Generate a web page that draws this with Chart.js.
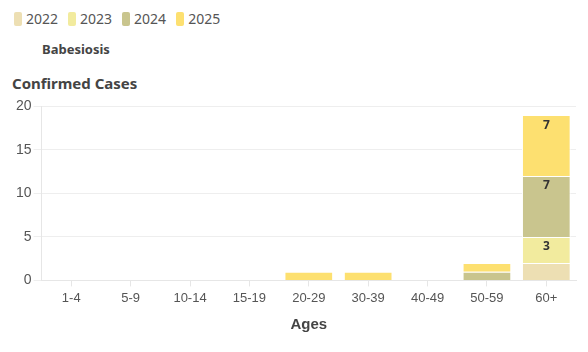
<!DOCTYPE html>
<html>
<head>
<meta charset="utf-8">
<script src="https://cdn.jsdelivr.net/npm/chart.js@4/dist/chart.umd.min.js"></script>
<style>
    html, body { margin: 0; padding: 0; background: #fff; }
    body { width: 588px; height: 352px; position: relative; overflow: hidden;
           font-family: "Noto Sans", "Open Sans", sans-serif; color: #555; }
    .legend { position: absolute; left: 14px; top: 9px; display: flex; font-size: 14px; }
    .legend-item { display: flex; align-items: center; margin-right: 10px; }
    .legend-dot { width: 8px; height: 14px; border-radius: 2px; margin-right: 4px; }
    .title { position: absolute; left: 42px; top: 40px; font-size: 13px; font-weight: bold; color: #444; }
    .ytitle { position: absolute; left: 12px; top: 73px; font-size: 15px; font-weight: bold; color: #444; }
    .wrap { position: absolute; left: 0; top: 96px; width: 588px; height: 256px; }
</style>
</head>
<body>
<div class="legend" id="legend"></div>
<div class="title">Babesiosis</div>
<div class="ytitle">Confirmed Cases</div>
<div class="wrap"><canvas id="chart"></canvas></div>
<script>
const AGES   = ['1-4', '5-9', '10-14', '15-19', '20-29', '30-39', '40-49', '50-59', '60+'];
const YEARS  = ['2022', '2023', '2024', '2025'];
const COLORS = ['#eddfb3', '#f2eb9e', '#c9c58e', '#fde070'];

const cases2022 = [0, 0, 0, 0, 0, 0, 0, 0, 2];
const cases2023 = [0, 0, 0, 0, 0, 0, 0, 0, 3];
const cases2024 = [0, 0, 0, 0, 0, 0, 0, 1, 7];
const cases2025 = [0, 0, 0, 0, 1, 1, 0, 1, 7];

const Y_TICKS = [0, 5, 10, 15, 20];

const series = [cases2022, cases2023, cases2024, cases2025];

document.getElementById('legend').innerHTML = YEARS.map((y, i) => `
    <div class="legend-item">
        <div class="legend-dot" style="background:${COLORS[i]}"></div>
        <span>${y}</span>
    </div>
`).join('');

// values of 3 and up get a label at the top of their segment
const segLabels = {
    id: 'segLabels',
    afterDatasetsDraw(chart) {
        const ctx = chart.ctx;
        ctx.save();
        ctx.font = 'bold 12px "Noto Sans", sans-serif';
        ctx.fillStyle = '#333';
        ctx.textAlign = 'center';
        ctx.textBaseline = 'top';
        chart.data.datasets.forEach((ds, di) => {
            chart.getDatasetMeta(di).data.forEach((bar, i) => {
                const v = ds.data[i];
                if (v < 3) return;
                ctx.fillText(v, bar.x, bar.y + 4);
            });
        });
        ctx.restore();
    }
};

new Chart(document.getElementById('chart'), {
    type: 'bar',
    data: {
        labels: AGES,
        datasets: series.map((d, i) => ({
            label: YEARS[i],
            data: d,
            backgroundColor: COLORS[i],
            borderColor: '#fff',
            borderWidth: 1,
            categoryPercentage: 0.82,
            barPercentage: 1
        }))
    },
    options: {
        responsive: true,
        maintainAspectRatio: false,
        animation: false,
        layout: { padding: { top: 9, right: 12, left: 14, bottom: 14 } },
        plugins: { legend: { display: false }, tooltip: { enabled: false } },
        scales: {
            x: {
                stacked: true,
                grid: { drawOnChartArea: false, offset: false, color: '#e6e6e6', tickLength: 6 },
                border: { color: '#e6e6e6' },
                ticks: { color: '#555', font: { size: 13 }, padding: 4 },
                title: { display: true, text: 'Ages', color: '#444',
                         font: { size: 15, weight: 'bold' }, padding: { top: 6 } }
            },
            y: {
                stacked: true,
                min: 0, max: 20,
                afterBuildTicks: axis => { axis.ticks = Y_TICKS.map(v => ({ value: v })); },
                grid: { color: '#eeeeee', tickLength: 8 },
                border: { color: '#e6e6e6' },
                ticks: { color: '#555', font: { size: 14 }, padding: 2 }
            }
        }
    },
    plugins: [segLabels]
});
</script>
</body>
</html>
